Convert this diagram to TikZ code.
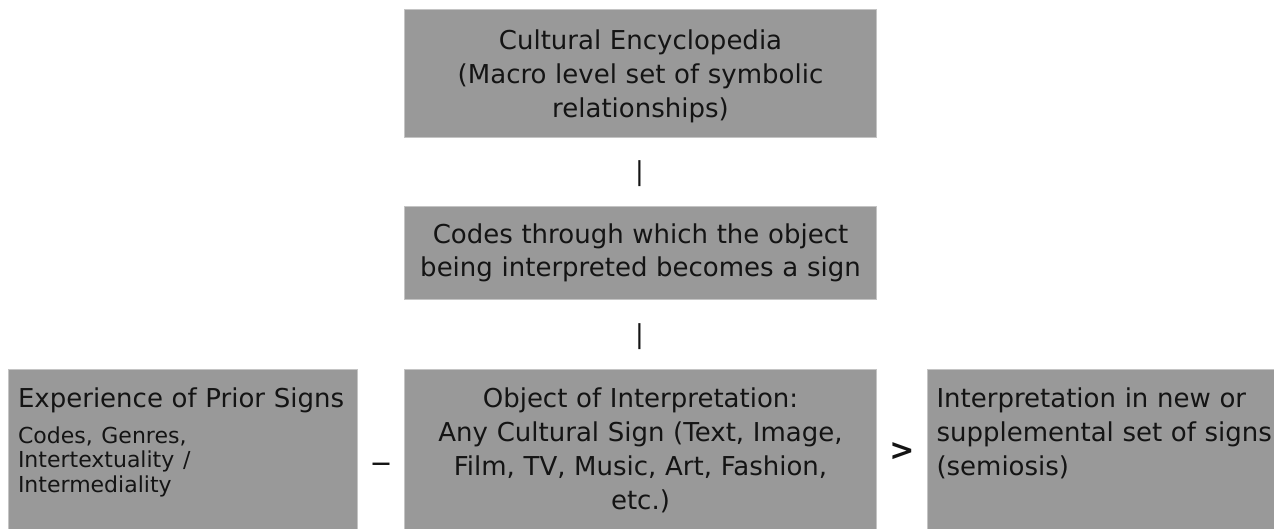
\documentclass[tikz,border=0pt]{standalone}
\usepackage{fontspec}
\setmainfont{DejaVu Sans}
\usetikzlibrary{positioning,calc}
\definecolor{boxgray}{HTML}{999999}
\definecolor{boxedge}{HTML}{C4C4C4}
\definecolor{ink}{HTML}{141414}
\begin{document}
\begin{tikzpicture}[x=1pt,y=-1pt,
  node distance=68pt and 46pt,
  box/.style={draw=boxedge,line width=1pt,fill=boxgray,text=ink,align=center,
              inner xsep=0pt,inner ysep=0pt,text width=472pt,font=\fontsize{26}{34}\selectfont},
  lowbox/.style={box,text depth=140pt,inner ysep=18pt,font=\fontsize{26}{34}\selectfont},
  link/.style={inner sep=0pt,text=ink,font=\fontsize{26}{26}\selectfont}
]
\useasboundingbox (0,0) rectangle (1274,528);
\clip (0,0) rectangle (1274,528);
\node[box,minimum height=128pt,anchor=north] (encyc) at (640.5,9) {\rule{0pt}{26pt}Cultural Encyclopedia\\(Macro level set of symbolic\\relationships)};
\node[box,below=of encyc,minimum height=93pt,font=\fontsize{26}{33}\selectfont] (codes) {Codes through which the object\\being interpreted becomes a sign};
\node[lowbox,below=69pt of codes] (object) {Object of Interpretation:\\Any Cultural Sign (Text, Image,\\Film, TV, Music, Art, Fashion,\\etc.)};
\node[lowbox,text width=330pt,inner xsep=9.5pt,align=left,left=46pt of object.north west,anchor=north east] (prior) {Experience of Prior Signs\\[2pt]\parbox[t]{330pt}{\raggedright\fontsize{22}{24.5}\selectfont Codes, Genres,\\Intertextuality /\\Intermediality}};
\node[lowbox,text width=350pt,inner xsep=9pt,align=left,right=50pt of object.north east,anchor=north west] (interp) {Interpretation in new or\\supplemental set of signs\\(semiosis)};
\node[link] (bar1) at ($(encyc.south)!0.5!(codes.north)+(-1,2)$) {|};
\node[link] (bar2) at ($(codes.south)!0.5!(object.north)+(-1,2)$) {|};
\node[link,font=\bfseries\fontsize{19}{19}\selectfont] (dash) at ($(prior.north east)!0.5!(object.north west)+(0,97)$) {—};
\node[link,font=\bfseries\fontsize{30}{30}\selectfont] (gt) at ($(object.north east)!0.5!(interp.north west)+(0,83)$) {>};
\end{tikzpicture}
\end{document}
